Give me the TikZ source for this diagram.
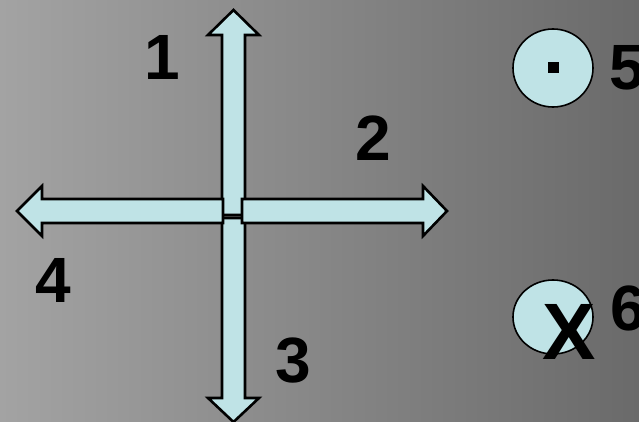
\documentclass[tikz,border=0pt]{standalone}
\usepackage{fontspec}
\setmainfont{Liberation Sans}
\definecolor{bgleft}{RGB}{163,163,163}
\definecolor{bgright}{RGB}{106,106,106}
\definecolor{arrfill}{RGB}{191,227,230}
\begin{document}
\begin{tikzpicture}[x=1pt,y=-1pt,
  arrowshape/.style={draw=black,fill=arrfill,line width=2.6pt,line join=miter},
  ringshape/.style={draw=black,fill=arrfill,line width=1.6pt},
  numlabel/.style={font=\bfseries\fontsize{64}{64}\selectfont,inner sep=0pt,text=black},
  biglabel/.style={font=\bfseries\fontsize{80}{80}\selectfont,inner sep=0pt,text=black}]
\path[use as bounding box,left color=bgleft,right color=bgright] (0,0) rectangle (639,422);
% vertical arrows
\draw[arrowshape] (222,215) -- (222,35) -- (208,35) -- (233.5,10) -- (259,35) -- (245,35) -- (245,215) -- cycle;
\draw[arrowshape] (222,218) -- (245,218) -- (245,398) -- (259,398) -- (233.5,422) -- (208,398) -- (222,398) -- cycle;
% horizontal arrows
\draw[arrowshape] (223,199) -- (42,199) -- (42,186) -- (17,211) -- (42,236) -- (42,223) -- (223,223) -- cycle;
\draw[arrowshape] (242,199) -- (423,199) -- (423,186) -- (447,211) -- (423,236) -- (423,223) -- (242,223) -- cycle;
% circles
\draw[ringshape] (553,68) ellipse [x radius=40, y radius=39];
\node[fill=black,minimum size=11pt,inner sep=0pt] (dot) at (553.5,67.5) {};
\draw[ringshape] (553,317) ellipse [x radius=40, y radius=37];
\node[biglabel] (cross) at (569,332) {X};
% labels
\node[numlabel] (l1) at (162,57) {1};
\node[numlabel] (l2) at (373,138) {2};
\node[numlabel] (l3) at (293,361) {3};
\node[numlabel] (l4) at (53,280) {4};
\node[numlabel,anchor=west] (l5) at (609,68) {5};
\node[numlabel,anchor=west] (l6) at (610,308) {6};
\end{tikzpicture}
\end{document}
